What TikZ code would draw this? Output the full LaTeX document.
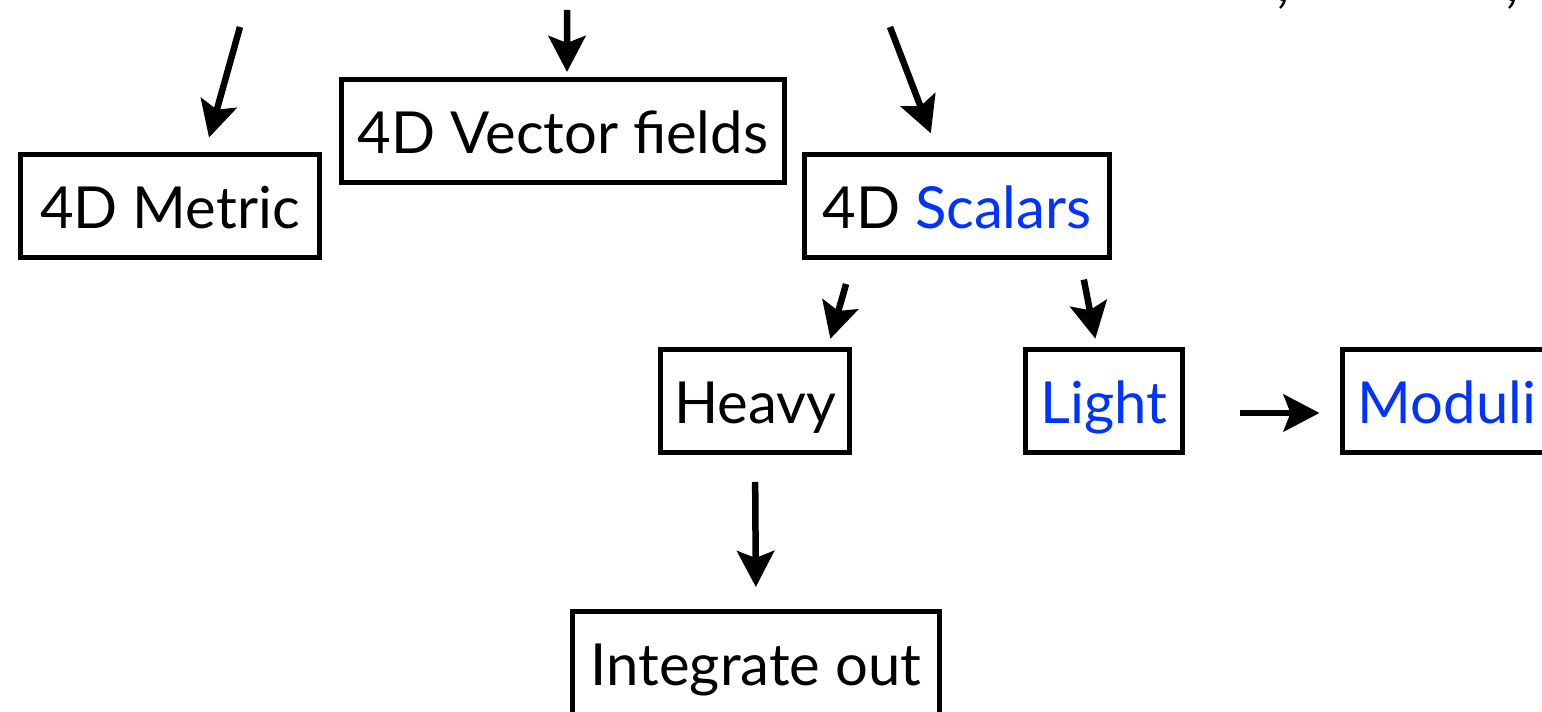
\documentclass[tikz,border=0pt]{standalone}
\usepackage{fontspec}
\setmainfont{Lato}
\usetikzlibrary{arrows.meta}
\definecolor{lightblue}{RGB}{0,51,255}

\begin{document}
\begin{tikzpicture}[
  x=0.02cm, y=-0.02cm,
  field/.style={rectangle, draw, line width=0.1cm, minimum height=2.06cm, inner sep=0pt,
    text height=0.92cm, text depth=0cm, font=\fontsize{33}{38}\selectfont},
  flow/.style={-{Stealth[length=0.72cm, width=0.74cm, inset=0.14cm]}, line width=0.13cm},
  >=Stealth
]
\useasboundingbox (0,0) rectangle (1542,712);

% Cut-off text above the picture
\node[anchor=base, font=\fontsize{33}{38}\selectfont] (commaA) at (1283,2) {,};
\node[anchor=base, font=\fontsize{33}{38}\selectfont] (commaB) at (1512,2) {,};

% Free ends of the arrows coming from above
\coordinate (m0) at (240,27);
\coordinate (v0) at (567,10);
\coordinate (s0) at (890,27);

% First row
\node[field, minimum width=6cm] (metric) at (170,206) {4D Metric};
\node[field, minimum width=8.86cm] (vector) at (563,131) {4D Vector fields};
\node[field, minimum width=6.1cm] (scalars) at (957,206) {4D \textcolor{lightblue}{Scalars}};

% Second row
\node[field, minimum width=3.8cm] (heavy) at (755,401) {Heavy};
\node[field, minimum width=3.16cm] (light) at (1104,401) {\textcolor{lightblue}{Light}};
\node[field, minimum width=4.2cm] (moduli) at (1447,401) {\textcolor{lightblue}{Moduli}};

% Third row
\node[field, minimum width=7.36cm] (integ) at (756,663) {Integrate out};

% Arrows into the first row
\draw[flow, shorten >=0.3cm] (m0) -- ([xshift=0.7cm]metric.north);
\draw[flow, shorten >=0.1cm] (v0) -- ([xshift=0.08cm]vector.north);
\draw[flow, shorten >=0.4cm] (s0) -- ([xshift=-0.38cm]scalars.north);

% Scalars split
\draw[flow, shorten <=0.5cm, shorten >=0.17cm] ([xshift=-2.08cm]scalars.south) -- ([xshift=1.46cm]heavy.north);
\draw[flow, shorten <=0.4cm, shorten >=0.17cm] ([xshift=2.46cm]scalars.south) -- ([xshift=-0.14cm]light.north);

% Heavy ones are integrated out, light ones give moduli
\draw[flow, shorten <=0.54cm, shorten >=0.44cm] (heavy.south) -- (integ.north);
\draw[flow, shorten <=1.1cm, shorten >=0.4cm] ([yshift=-0.24cm]light.east) -- ([yshift=-0.24cm]moduli.west);

\end{tikzpicture}
\end{document}
